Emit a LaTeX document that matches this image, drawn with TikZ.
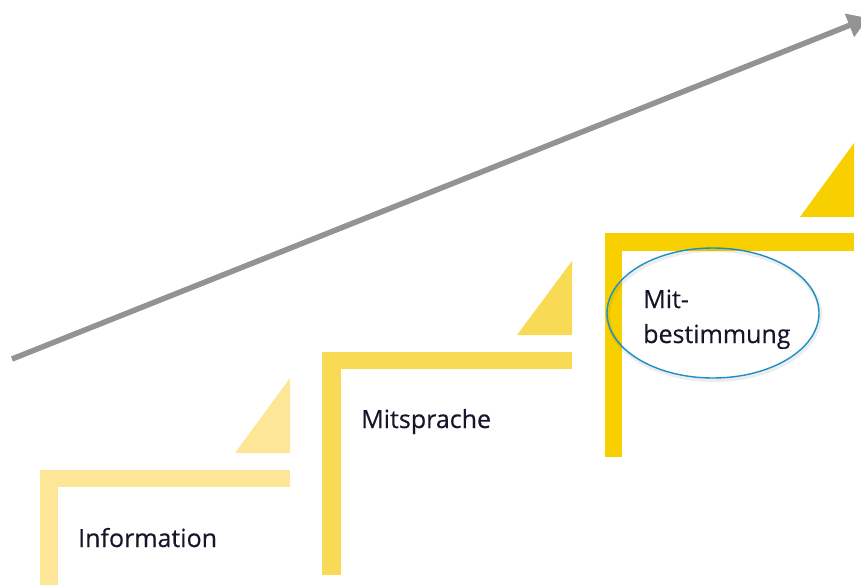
\documentclass[tikz,border=0pt]{standalone}
\usepackage{fontspec}
\setmainfont{Open Sans}
\newfontfamily\labelfont[FakeBold=0.35]{Open Sans}
\usetikzlibrary{arrows.meta,shapes.geometric}
\definecolor{stepA}{HTML}{FDE695}
\definecolor{stepB}{HTML}{F9DA55}
\definecolor{stepC}{HTML}{F8D000}
\definecolor{arrowgray}{HTML}{939393}
\definecolor{ringblue}{HTML}{1A8FC9}
\definecolor{labeltext}{HTML}{16162A}
\begin{document}
\begin{tikzpicture}[x=1pt,y=-1pt,
  steplabel/.style={anchor=base west,inner sep=0pt,text=labeltext,font=\labelfont\fontsize{25}{35}\selectfont,align=left},
  progress/.style={draw=arrowgray,line width=5.5pt,-{Triangle[length=20pt,width=24pt]}}]
\useasboundingbox (0,0) rectangle (861,585);
% step 1
\fill[stepA] (40,470) rectangle (290,487);
\fill[stepA] (40,470) rectangle (58,585);
\fill[stepA] (290,378) -- (290,453) -- (235,453) -- cycle;
% step 2
\fill[stepB] (322,352) rectangle (572,369);
\fill[stepB] (322,352) rectangle (341,575);
\fill[stepB] (572,261) -- (572,335) -- (517,335) -- cycle;
% step 3
\fill[stepC] (605,233) rectangle (854,251);
\fill[stepC] (605,233) rectangle (622,457);
\fill[stepC] (854,143) -- (854,217) -- (800,217) -- cycle;
% rising arrow
\coordinate (arrowstart) at (12,359);
\coordinate (arrowend) at (868,18);
\draw[progress] (arrowstart) -- (arrowend);
% labels
\node[steplabel] (info) at (78,547) {Information};
\node[steplabel] (mitsprache) at (361,428) {Mitsprache};
\node[steplabel] (mitbest) at (643,343) {Mit-\\bestimmung};
% highlight ring with a soft halo
\draw[black,opacity=0.07,line width=4pt] (714,315) ellipse [x radius=106, y radius=65];
\node[draw=ringblue,line width=1.4pt,ellipse,minimum width=212pt,minimum height=130pt] (ring) at (713,313) {};
\end{tikzpicture}
\end{document}
